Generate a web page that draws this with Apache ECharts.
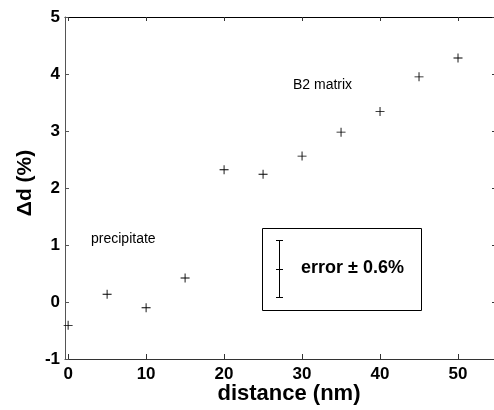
<!DOCTYPE html>
<html>
<head>
<meta charset="utf-8">
<script src="https://cdn.jsdelivr.net/npm/echarts@6/dist/echarts.min.js"></script>
<style>
html,body{margin:0;padding:0;background:#fff;}
#chart{width:494px;height:410px;}
</style>
</head>
<body>
<div id="chart"></div>
<script>
const distances = [0, 5, 10, 15, 20, 25, 30, 35, 40, 45, 50];
const deltaD = [-0.41, 0.135, -0.1, 0.42, 2.32, 2.24, 2.56, 2.98, 3.34, 3.95, 4.28];
const xTickValues = [0, 10, 20, 30, 40, 50];
const yTickValues = [-1, 0, 1, 2, 3, 4, 5];
const xTitle = 'distance (nm)';
const yTitle = 'Δd (%)';
const noteMatrix = 'B2 matrix';
const notePrecipitate = 'precipitate';
const noteError = 'error ± 0.6%';

const FONT = '"Liberation Sans", Arial, sans-serif';
const chart = echarts.init(document.getElementById('chart'), null, {renderer: 'canvas'});

const plusPath = 'path://M4.5,0H5.5V10H4.5Z M0,4.5H10V5.5H0Z';

const option = {
  backgroundColor: '#fff',
  animation: false,
  grid: {left: 65, top: 17, right: -3, bottom: 51, outerBoundsMode: 'none', containLabel: false},
  xAxis: [{
    type: 'value', position: 'bottom', min: -0.4, max: 55,
    axisLine: {show: true, onZero: false, lineStyle: {color: '#333', width: 1}},
    axisTick: {show: true, inside: true, length: 5, customValues: xTickValues, lineStyle: {color: '#333'}},
    axisLabel: {show: true, customValues: xTickValues, margin: 7, fontFamily: FONT, fontWeight: 'bold', fontSize: 17, color: '#000'},
    splitLine: {show: false}
  }, {
    type: 'value', position: 'top', min: -0.4, max: 55,
    axisLine: {show: true, onZero: false, lineStyle: {color: '#000', width: 1}},
    axisTick: {show: true, inside: true, length: 4, customValues: xTickValues, lineStyle: {color: '#333'}},
    axisLabel: {show: false},
    splitLine: {show: false}
  }],
  yAxis: [{
    type: 'value', position: 'left', min: -1, max: 5, interval: 1,
    axisLine: {show: true, onZero: false, lineStyle: {color: '#555', width: 1}},
    axisTick: {show: true, inside: true, length: 4, lineStyle: {color: '#555'}},
    axisLabel: {show: true, margin: 5, fontFamily: FONT, fontWeight: 'bold', fontSize: 17, color: '#000',
      formatter: v => yTickValues.includes(v) ? String(v) : ''},
    splitLine: {show: false}
  }, {
    type: 'value', position: 'right', min: -1, max: 5, interval: 1,
    axisLine: {show: true, onZero: false, lineStyle: {color: '#000', width: 1}},
    axisTick: {show: true, inside: true, length: 5, lineStyle: {color: '#333'}},
    axisLabel: {show: false},
    splitLine: {show: false}
  }],
  series: [{
    type: 'scatter',
    xAxisIndex: 0, yAxisIndex: 0,
    data: distances.map((d, i) => [d, deltaD[i]]),
    symbol: plusPath,
    symbolSize: 9,
    itemStyle: {color: '#000', opacity: 1},
    silent: true
  }],
  graphic: [
    {type: 'text', x: 25, y: 183, rotation: Math.PI / 2,
      style: {text: yTitle, x: 0, y: 0, align: 'center', verticalAlign: 'middle', font: 'bold 21px ' + FONT, fill: '#000'}},
    {type: 'text', x: 289, y: 394,
      style: {text: xTitle, x: 0, y: 0, align: 'center', verticalAlign: 'middle', font: 'bold 22px ' + FONT, fill: '#000'}},
    {type: 'text', x: 293, y: 85,
      style: {text: noteMatrix, align: 'left', verticalAlign: 'middle', font: '14px ' + FONT, fill: '#000'}},
    {type: 'text', x: 91, y: 239,
      style: {text: notePrecipitate, align: 'left', verticalAlign: 'middle', font: '14px ' + FONT, fill: '#000'}},
    {type: 'rect', shape: {x: 262.5, y: 228.5, width: 159, height: 82},
      style: {fill: 'none', stroke: '#000', lineWidth: 1}},
    {type: 'line', shape: {x1: 279.5, y1: 240, x2: 279.5, y2: 298}, style: {stroke: '#000', lineWidth: 1}},
    {type: 'line', shape: {x1: 276, y1: 240.5, x2: 283, y2: 240.5}, style: {stroke: '#000', lineWidth: 1}},
    {type: 'line', shape: {x1: 276, y1: 269.5, x2: 283, y2: 269.5}, style: {stroke: '#000', lineWidth: 1}},
    {type: 'line', shape: {x1: 276, y1: 297.5, x2: 283, y2: 297.5}, style: {stroke: '#000', lineWidth: 1}},
    {type: 'text', x: 301, y: 268,
      style: {text: noteError, align: 'left', verticalAlign: 'middle', font: 'bold 18px ' + FONT, fill: '#000'}}
  ]
};
chart.setOption(option);
</script>
</body>
</html>
